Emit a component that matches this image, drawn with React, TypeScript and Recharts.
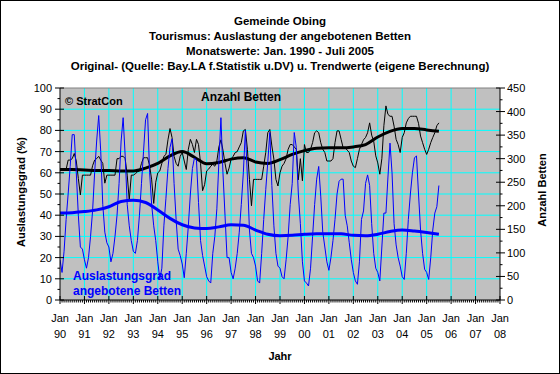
import { LineChart, Line, XAxis, YAxis, CartesianGrid, ReferenceLine } from "recharts";

const YEAR_LABELS = ["90", "91", "92", "93", "94", "95", "96", "97", "98", "99", "00", "01", "02", "03", "04", "05", "06", "07", "08"];

// Auslastungsgrad (%), Monatswerte Jan 1990 - Jul 2005
const OCCUPANCY = [
  19, 13, 23, 38, 50, 63, 78, 78, 60, 40, 25, 24, // 1990
  19, 15, 20, 30, 42, 60, 75, 87, 70, 45, 32, 27, // 1991
  25, 18, 22, 30, 40, 55, 75, 86, 68, 45, 35, 28, // 1992
  23, 22, 28, 40, 55, 70, 85, 88, 60, 45, 35, 28, // 1993
  18, 10, 15, 35, 48, 62, 72, 76, 55, 38, 24, 21, // 1994
  17, 10.5, 22, 35, 50, 62, 67, 66, 46, 28, 21, 16, // 1995
  11, 9, 8, 22, 30, 43, 65, 86, 60, 40, 20, 20, // 1996
  13, 10, 15, 22, 32, 45, 60, 80, 58, 33, 22, 20, // 1997
  16, 9, 8, 22, 38, 52, 65, 79, 54, 35, 22, 16, // 1998
  15, 11, 10, 19, 30, 45, 55, 79, 72, 50, 36, 18, // 1999
  9, 8, 6.6, 15, 30, 45, 57, 63, 49, 32, 25, 18, // 2000
  14, 20, 28, 38, 50, 56, 57, 57, 40, 35, 27, 19, // 2001
  13, 9, 7.4, 18, 38, 42, 55, 59, 54, 36, 22, 15, // 2002
  13, 9, 25, 41, 41, 58, 74, 60, 36, 26, 20, 16, // 2003
  11, 9.7, 22, 38, 50, 60, 67, 68, 50, 33, 22, 14.5, // 2004
  13, 9.7, 20, 33, 41, 44, 54, // 2005
];

// Anzahl Betten, Monatswerte
const BEDS = [
  277, 277, 277, 277, 297, 297, 300, 311, 295, 258, 223, 265, // 1990
  265, 265, 265, 265, 285, 297, 300, 305, 297, 290, 248, 265, // 1991
  265, 265, 265, 265, 300, 300, 305, 305, 300, 265, 212, 265, // 1992
  265, 268, 272, 274, 290, 302, 302, 302, 285, 255, 205, 250, // 1993
  270, 274, 290, 305, 309, 340, 364, 345, 305, 290, 284, 305, // 1994
  313, 295, 277, 320, 341, 330, 313, 341, 330, 290, 232, 245, // 1995
  274, 278, 284, 288, 284, 295, 325, 340, 318, 290, 267, 280, // 1996
  299, 305, 313, 315, 325, 334, 359, 362, 320, 256, 200, 256, // 1997
  256, 256, 256, 256, 284, 313, 355, 362, 327, 299, 256, 242, // 1998
  270, 284, 290, 300, 320, 330, 330, 325, 320, 255, 300, 253, // 1999
  330, 313, 313, 320, 334, 355, 359, 355, 334, 320, 313, 295, // 2000
  295, 295, 300, 334, 359, 359, 341, 323, 323, 318, 313, 295, // 2001
  284, 281, 300, 320, 330, 340, 345, 355, 376, 350, 337, 306, // 2002
  291, 267, 300, 370, 412, 394, 390, 390, 369, 341, 330, 313, // 2003
  345, 355, 376, 385, 390, 390, 390, 390, 375, 348, 334, 320, // 2004
  309, 320, 334, 345, 355, 370, 376, // 2005
];

const TREND_MONTHS = [0, 6, 12, 18, 24, 30, 36, 42, 48, 54, 60, 66, 72, 78, 84, 90, 96, 102, 108, 114, 120, 126, 132, 138, 144, 150, 156, 162, 168, 174, 180, 186];
const OCC_TREND = [41, 41.2, 41.7, 42.5, 44, 46.5, 47, 46, 42.5, 38.5, 35.5, 34, 33.7, 34.5, 35.5, 35.3, 33, 31, 30.3, 30.5, 31, 31.3, 31.3, 31.2, 30.5, 30.3, 31, 32.3, 33, 32.5, 31.8, 31];
const BEDS_TREND = [277, 277, 276, 275, 275, 274, 274, 280, 290, 306, 315, 303, 289, 292, 299, 302, 293, 290, 298, 309, 317, 322, 323, 323, 325, 330, 346, 358, 364, 364, 361, 358];

const monthly = OCCUPANCY.map((v, i) => ({ m: i, occ: v, beds: BEDS[i] }));
const occTrend = TREND_MONTHS.map((m, i) => ({ m, v: OCC_TREND[i] }));
const bedsTrend = TREND_MONTHS.map((m, i) => ({ m, v: BEDS_TREND[i] }));

const X_TICKS = Array.from({ length: YEAR_LABELS.length * 12 - 11 }, (_, i) => i);
const LEFT_TICKS = Array.from({ length: 21 }, (_, i) => i * 5);
const RIGHT_TICKS = Array.from({ length: 19 }, (_, i) => i * 25);
const FONT = "'Liberation Sans', Arial, sans-serif";

function XTick(props: any) {
  const { x, payload } = props;
  const v = payload.value;
  if (v % 12 === 0) {
    return (
      <g>
        <line x1={x} x2={x} y1={296} y2={304} stroke="#000" />
        <text x={x} y={322} textAnchor="middle" fontSize={11} fontFamily={FONT} fill="#000">Jan</text>
        <text x={x} y={338} textAnchor="middle" fontSize={11} fontFamily={FONT} fill="#000">{YEAR_LABELS[v / 12]}</text>
      </g>
    );
  }
  return <line x1={x} x2={x} y1={300} y2={302.5} stroke="#000" />;
}

function LeftTick(props: any) {
  const { y, payload } = props;
  const v = payload.value;
  if (v % 10 === 0) {
    return (
      <g>
        <line x1={55} x2={64} y1={y} y2={y} stroke="#000" />
        <text x={52} y={y + 4} textAnchor="end" fontSize={11} fontFamily={FONT} fill="#000">{v}</text>
      </g>
    );
  }
  return <line x1={57.5} x2={60} y1={y} y2={y} stroke="#000" />;
}

function RightTick(props: any) {
  const { y, payload } = props;
  const v = payload.value;
  if (v % 50 === 0) {
    return (
      <g>
        <line x1={496} x2={505} y1={y} y2={y} stroke="#000" />
        <text x={507} y={y + 4} textAnchor="start" fontSize={11} fontFamily={FONT} fill="#000">{v}</text>
      </g>
    );
  }
  return <line x1={500} x2={502.5} y1={y} y2={y} stroke="#000" />;
}

export default function App() {
  return (
    <div
      style={{
        position: "relative",
        width: 560,
        height: 374,
        boxSizing: "border-box",
        border: "1px solid #000",
        background: "#fff",
        fontFamily: FONT,
      }}
    >
      <style>{"body{margin:0}"}</style>
      <div style={{ position: "absolute", left: -1, top: -1 }}>
        <LineChart width={560} height={374} data={monthly} margin={{ top: 88, right: 20, bottom: 44, left: 0 }}>
          <CartesianGrid
            yAxisId="left"
            stroke="#00FFFF"
            fill="#C0C0C0"
            fillOpacity={1}
            horizontalValues={[10, 20, 30, 40, 50, 60, 70, 80, 90]}
            verticalValues={[12, 24, 36, 48, 60, 72, 84, 96, 108, 120, 132, 144, 156, 168, 180, 192, 204]}
          />
          <XAxis
            dataKey="m"
            type="number"
            domain={[0, 216]}
            ticks={X_TICKS}
            interval={0}
            tickLine={false}
            axisLine={{ stroke: "#000" }}
            tick={<XTick />}
            height={30}
            allowDataOverflow
          />
          <YAxis
            yAxisId="left"
            domain={[0, 100]}
            ticks={LEFT_TICKS}
            interval={0}
            tickLine={false}
            axisLine={{ stroke: "#000" }}
            tick={<LeftTick />}
            width={60}
          />
          <YAxis
            yAxisId="right"
            orientation="right"
            domain={[0, 450]}
            ticks={RIGHT_TICKS}
            interval={0}
            tickLine={false}
            axisLine={{ stroke: "#000" }}
            tick={<RightTick />}
            width={40}
          />
          <ReferenceLine yAxisId="left" y={100} stroke="#808080" />
          <Line yAxisId="right" dataKey="beds" type="linear" stroke="#000" strokeWidth={1} dot={false} isAnimationActive={false} />
          <Line yAxisId="right" data={bedsTrend} dataKey="v" type="monotone" stroke="#000" strokeWidth={3} dot={false} isAnimationActive={false} />
          <Line yAxisId="left" dataKey="occ" type="linear" stroke="#0000FF" strokeWidth={1} dot={false} isAnimationActive={false} />
          <Line yAxisId="left" data={occTrend} dataKey="v" type="monotone" stroke="#0000FF" strokeWidth={3} dot={false} isAnimationActive={false} />
        </LineChart>
      </div>
      <svg width={560} height={374} style={{ position: "absolute", left: -1, top: -1, pointerEvents: "none" }}>
        <g fontFamily={FONT} fontWeight="bold" fill="#000" fontSize={11.5} textAnchor="middle">
          <text x={280} y={25}>Gemeinde Obing</text>
          <text x={280} y={40}>Tourismus: Auslastung der angebotenen Betten</text>
          <text x={280} y={55}>Monatswerte: Jan. 1990 - Juli 2005</text>
          <text x={280} y={70}>Original- (Quelle: Bay.LA f.Statistik u.DV) u. Trendwerte (eigene Berechnung)</text>
          <text x={280} y={360} fontSize={11}>Jahr</text>
          <text x={25} y={192} fontSize={11} transform="rotate(-90 25 192)">Auslastungsgrad (%)</text>
          <text x={546} y={190} fontSize={11} transform="rotate(-90 546 190)">Anzahl Betten</text>
        </g>
        <g fontFamily={FONT} fontWeight="bold" fontSize={12}>
          <text x={65} y={105} fill="#000" fontSize={11}>© StratCon</text>
          <text x={201} y={101} fill="#000">Anzahl Betten</text>
          <text x={73} y={280} fill="#0000FF">Auslastungsgrad</text>
          <text x={73} y={295} fill="#0000FF">angebotene Betten</text>
        </g>
      </svg>
    </div>
  );
}
